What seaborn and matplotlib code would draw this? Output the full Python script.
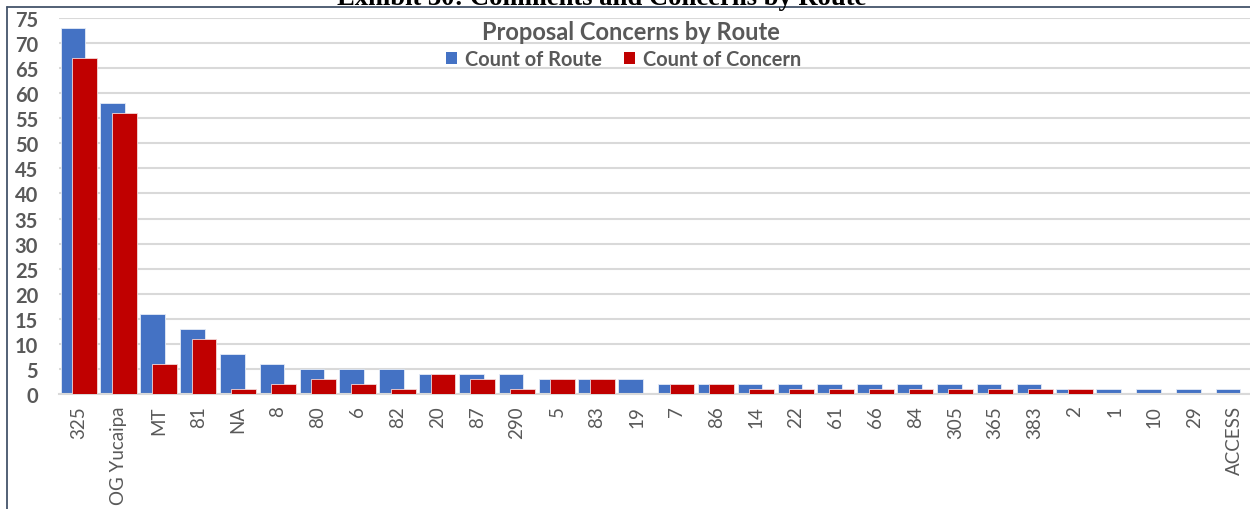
import numpy as np
import pandas as pd
import matplotlib
matplotlib.use("Agg")
import matplotlib.pyplot as plt
import seaborn as sns
from matplotlib.patches import Patch
from matplotlib.lines import Line2D

# Route categories and the two counts per route
routes = ["325", "OG Yucaipa", "MT", "81", "NA", "8", "80", "6", "82", "20",
          "87", "290", "5", "83", "19", "7", "86", "14", "22", "61",
          "66", "84", "305", "365", "383", "2", "1", "10", "29", "ACCESS"]
count_of_route = [73, 58, 16, 13, 8, 6, 5, 5, 5, 4,
                  4, 4, 3, 3, 3, 2, 2, 2, 2, 2,
                  2, 2, 2, 2, 2, 1, 1, 1, 1, 1]
count_of_concern = [67, 56, 6, 11, 1, 2, 3, 2, 1, 4,
                    3, 1, 3, 3, 0, 2, 2, 1, 1, 1,
                    1, 1, 1, 1, 1, 1, 0, 0, 0, 0]
y_ticks = list(range(0, 80, 5))

BLUE = "#4472C4"
RED = "#C00000"
GRAY_TXT = "#595959"
GRID = "#D9D9D9"
FRAME = "#44546A"

sns.set_theme(style="white")
plt.rcParams["font.family"] = ["Lato", "DejaVu Sans"]

W, H = 1250, 510
fig = plt.figure(figsize=(W / 100, H / 100), dpi=100)
ax = fig.add_axes([59 / W, 1 - 395 / H, (1254 - 59) / W, (395 - 19) / H])

pos = np.arange(len(routes))
df = pd.DataFrame({"pos": pos, "route": count_of_route, "concern": count_of_concern})

# Overlapping clustered bars: route count behind, concern count in front
sns.barplot(x=df["pos"] - 0.15, y=df["route"], native_scale=True, orient="x",
            width=0.62, color=BLUE, saturation=1, errorbar=None,
            edgecolor="#E4EBF6", linewidth=0.6, ax=ax, zorder=2)
sns.barplot(x=df["pos"] + 0.14, y=df["concern"], native_scale=True, orient="x",
            width=0.62, color=RED, saturation=1, errorbar=None,
            edgecolor="#F3D9D9", linewidth=0.6, ax=ax, zorder=3)

ax.set_xlim(-0.5, len(routes) - 0.5)
ax.set_ylim(0, 75)
ax.set_yticks(y_ticks)
ax.set_yticklabels([str(v) for v in y_ticks], fontsize=14.5, fontweight="bold",
                   color=GRAY_TXT)
ax.set_xticks(pos)
ax.set_xticklabels(routes, rotation=90, fontsize=13.5, color=GRAY_TXT)
ax.tick_params(axis="y", length=0, pad=15)
ax.tick_params(axis="x", length=0, pad=8)
ax.set_xlabel("")
ax.set_ylabel("")
ax.yaxis.grid(True, color=GRID, linewidth=1.5)
ax.set_axisbelow(True)
for side in ["left", "right", "top"]:
    ax.spines[side].set_visible(False)
ax.spines["bottom"].set_color(GRID)
ax.spines["bottom"].set_linewidth(1.5)

# Chart title and legend
fig.text(631 / W, 1 - 32 / H, "Proposal Concerns by Route", ha="center",
         va="center", fontsize=17, fontweight="bold", color=GRAY_TXT)
handles = [Patch(facecolor=BLUE, edgecolor="none", label="Count of Route"),
           Patch(facecolor=RED, edgecolor="none", label="Count of Concern")]
leg = fig.legend(handles=handles, loc="center", bbox_to_anchor=(624 / W, 1 - 60 / H),
                 ncol=2, frameon=False, handlelength=0.55, handleheight=0.55,
                 handletextpad=0.4, columnspacing=1.1, fontsize=14.4)
for t in leg.get_texts():
    t.set_color(GRAY_TXT)
    t.set_fontweight("bold")

# Document caption above the chart frame
fig.text(602 / W, 1 - 5 / H, "Exhibit 30: Comments and Concerns by Route",
         ha="center", va="baseline", fontsize=19.2, fontweight="bold",
         family=["Liberation Serif", "DejaVu Serif"], color="black")

# Frame lines along the top and left edges
fig.add_artist(Line2D([7 / W, 1.0], [1 - 8 / H, 1 - 8 / H], transform=fig.transFigure,
                      color=FRAME, linewidth=1.3))
fig.add_artist(Line2D([7 / W, 7 / W], [1 - 8 / H, 0.0], transform=fig.transFigure,
                      color=FRAME, linewidth=1.3))

fig.savefig("out.png", dpi=100)
